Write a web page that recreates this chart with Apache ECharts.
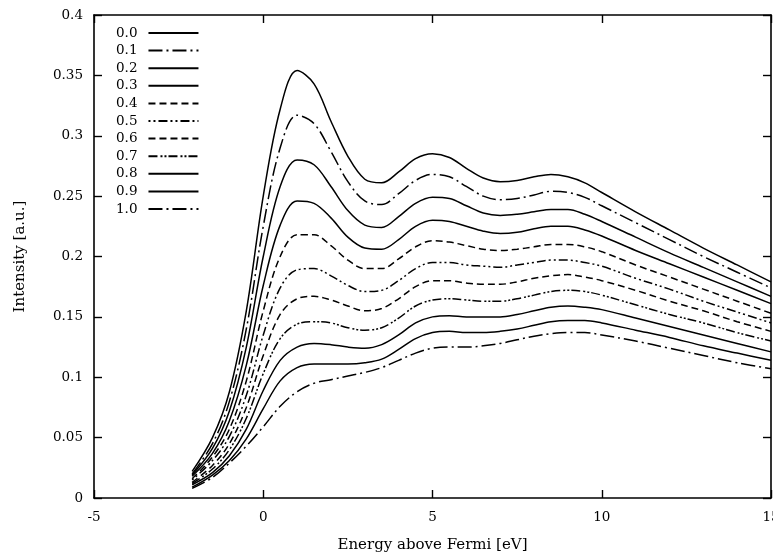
<!DOCTYPE html>
<html>
<head>
<meta charset="utf-8">
<script src="https://cdn.jsdelivr.net/npm/echarts@6/dist/echarts.min.js"></script>
<style>
  html, body { margin: 0; padding: 0; background: #fff; }
  #chart { width: 773px; height: 555px; }
</style>
</head>
<body>
<div id="chart"></div>
<script>
// energy grid (eV)
const energy = [-2.1, -1.5, -1, -0.5, 0, 0.5, 1, 1.5, 2, 2.5, 3, 3.5, 4, 4.5, 5, 5.5, 6, 6.5, 7, 7.5, 8, 8.5, 9, 9.5, 10, 11, 12, 13, 14, 15];

const labels = ['0.0', '0.1', '0.2', '0.3', '0.4', '0.5', '0.6', '0.7', '0.8', '0.9', '1.0'];

const c00 = [0.022, 0.050, 0.088, 0.155, 0.250, 0.322, 0.354, 0.343, 0.312, 0.283, 0.264, 0.261, 0.270, 0.281, 0.285, 0.282, 0.273, 0.265, 0.262, 0.263, 0.266, 0.268, 0.266, 0.261, 0.253, 0.237, 0.222, 0.207, 0.193, 0.179];
const c01 = [0.020, 0.045, 0.080, 0.140, 0.225, 0.290, 0.317, 0.310, 0.287, 0.262, 0.246, 0.243, 0.252, 0.263, 0.268, 0.266, 0.258, 0.250, 0.247, 0.248, 0.251, 0.254, 0.253, 0.249, 0.242, 0.228, 0.214, 0.200, 0.187, 0.174];
const c02 = [0.019, 0.041, 0.072, 0.125, 0.200, 0.258, 0.280, 0.276, 0.258, 0.238, 0.226, 0.224, 0.233, 0.244, 0.249, 0.248, 0.242, 0.236, 0.234, 0.235, 0.237, 0.239, 0.239, 0.235, 0.229, 0.216, 0.203, 0.191, 0.179, 0.167];
const c03 = [0.018, 0.037, 0.064, 0.110, 0.176, 0.226, 0.246, 0.244, 0.232, 0.216, 0.207, 0.206, 0.214, 0.225, 0.230, 0.229, 0.225, 0.221, 0.219, 0.220, 0.223, 0.225, 0.225, 0.222, 0.217, 0.205, 0.194, 0.183, 0.172, 0.161];
const c04 = [0.016, 0.034, 0.057, 0.097, 0.155, 0.200, 0.218, 0.218, 0.209, 0.197, 0.190, 0.190, 0.198, 0.208, 0.213, 0.212, 0.209, 0.206, 0.205, 0.206, 0.208, 0.210, 0.210, 0.208, 0.204, 0.193, 0.183, 0.173, 0.163, 0.153];
const c05 = [0.015, 0.031, 0.051, 0.085, 0.135, 0.174, 0.189, 0.190, 0.184, 0.176, 0.171, 0.172, 0.180, 0.190, 0.195, 0.195, 0.193, 0.192, 0.191, 0.193, 0.195, 0.197, 0.197, 0.195, 0.192, 0.182, 0.173, 0.163, 0.154, 0.145];
const c06 = [0.013, 0.027, 0.045, 0.075, 0.118, 0.152, 0.165, 0.167, 0.164, 0.159, 0.155, 0.157, 0.165, 0.175, 0.180, 0.180, 0.178, 0.177, 0.177, 0.179, 0.182, 0.184, 0.185, 0.183, 0.180, 0.172, 0.163, 0.155, 0.146, 0.138];
const c07 = [0.012, 0.024, 0.040, 0.066, 0.103, 0.132, 0.144, 0.146, 0.145, 0.141, 0.139, 0.141, 0.149, 0.159, 0.164, 0.165, 0.164, 0.163, 0.163, 0.165, 0.168, 0.171, 0.172, 0.171, 0.168, 0.160, 0.152, 0.145, 0.137, 0.130];
const c08 = [0.011, 0.021, 0.035, 0.057, 0.089, 0.114, 0.125, 0.128, 0.127, 0.125, 0.124, 0.127, 0.135, 0.145, 0.150, 0.151, 0.150, 0.150, 0.150, 0.152, 0.155, 0.158, 0.159, 0.158, 0.156, 0.149, 0.142, 0.135, 0.128, 0.121];
const c09 = [0.009, 0.019, 0.031, 0.049, 0.074, 0.097, 0.108, 0.111, 0.111, 0.111, 0.112, 0.115, 0.123, 0.132, 0.137, 0.138, 0.137, 0.137, 0.138, 0.140, 0.143, 0.146, 0.147, 0.147, 0.145, 0.139, 0.133, 0.126, 0.120, 0.114];
const c10 = [0.008, 0.017, 0.029, 0.043, 0.059, 0.076, 0.088, 0.095, 0.098, 0.101, 0.104, 0.108, 0.114, 0.120, 0.124, 0.125, 0.125, 0.126, 0.128, 0.131, 0.134, 0.136, 0.137, 0.137, 0.135, 0.130, 0.124, 0.118, 0.112, 0.107];

const curves = [c00, c01, c02, c03, c04, c05, c06, c07, c08, c09, c10];

// gnuplot-like dash patterns
const dashes = [
    'solid',
    [14, 4, 2, 4],
    'solid',
    'solid',
    [7, 4],
    [2, 3, 2, 3, 9, 3],
    [7, 4],
    [9, 3, 2, 2, 2, 2],
    'solid',
    'solid',
    [14, 4, 2, 4]
];

const font = 'DejaVu Serif';

const myChart = echarts.init(document.getElementById('chart'), null, { renderer: 'canvas' });

const axisCommon = {
    axisLine: { onZero: false, lineStyle: { color: '#000', width: 1.6 } },
    axisTick: { inside: true, length: 8, lineStyle: { color: '#000', width: 1.4 } },
    splitLine: { show: false }
};

const option = {
    animation: false,
    backgroundColor: '#fff',
    grid: { left: 94, right: 2, top: 15, bottom: 57, outerBoundsMode: 'none' },
    legend: {
        left: 111,
        top: 21,
        orient: 'vertical',
        align: 'right',
        itemWidth: 50,
        itemHeight: 14,
        itemGap: 3.6,
        itemStyle: { opacity: 0 },
        textStyle: { fontFamily: font, fontSize: 13.5, color: '#000', padding: [0, 6, 0, 0] },
        data: labels
    },
    xAxis: [{
        type: 'value',
        min: -5, max: 15, interval: 5,
        name: 'Energy above Fermi [eV]',
        nameLocation: 'middle',
        nameGap: 40,
        nameTextStyle: { fontFamily: font, fontSize: 15, color: '#000' },
        axisLabel: { fontFamily: font, fontSize: 13.5, color: '#000', margin: 12 },
        ...axisCommon
    }, {
        type: 'value',
        position: 'top',
        min: -5, max: 15, interval: 5,
        axisLabel: { show: false },
        ...axisCommon
    }],
    yAxis: [{
        type: 'value',
        min: 0, max: 0.4, interval: 0.05,
        name: 'Intensity [a.u.]',
        nameLocation: 'middle',
        nameGap: 66,
        nameTextStyle: { fontFamily: font, fontSize: 15, color: '#000' },
        axisLabel: { fontFamily: font, fontSize: 13.5, color: '#000', margin: 11 },
        ...axisCommon
    }, {
        type: 'value',
        position: 'right',
        min: 0, max: 0.4, interval: 0.05,
        axisLabel: { show: false },
        ...axisCommon
    }],
    series: curves.map((vals, i) => ({
        name: labels[i],
        type: 'line',
        xAxisIndex: 0,
        yAxisIndex: 0,
        symbol: 'none',
        smooth: 0.35,
        silent: true,
        data: energy.map((x, j) => [x, vals[j]]),
        lineStyle: { color: '#000', width: 1.5, type: dashes[i] },
        itemStyle: { color: '#000' }
    }))
};

myChart.setOption(option);
</script>
</body>
</html>
